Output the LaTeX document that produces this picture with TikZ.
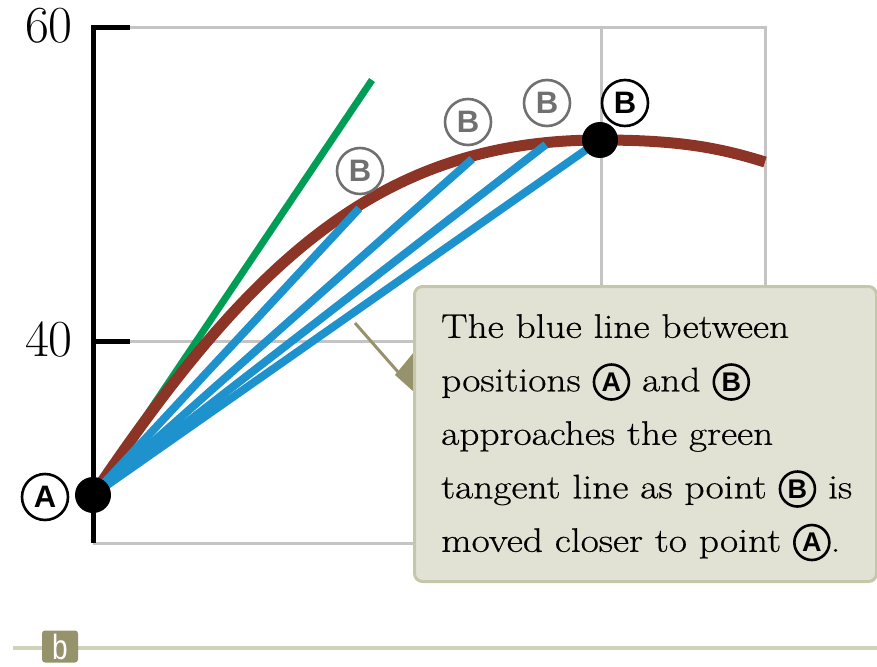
\documentclass[tikz,border=0pt]{standalone}
\usepackage{fontspec}
\newfontfamily\lsans{Liberation Sans}
\newfontfamily\condsans{Liberation Sans}[FakeStretch=0.8]
\newfontfamily\boxfont{Latin Modern Roman}[FakeStretch=1.16,FakeBold=0.6]
\definecolor{gridgray}{RGB}{196,196,196}
\definecolor{curvered}{RGB}{140,52,38}
\definecolor{lineblue}{RGB}{30,146,204}
\definecolor{tangreen}{RGB}{0,158,84}
\definecolor{boxfill}{RGB}{226,226,212}
\definecolor{boxedge}{RGB}{198,198,170}
\definecolor{olivec}{RGB}{150,147,108}
\definecolor{rulecol}{RGB}{206,210,184}
\definecolor{labgray}{RGB}{112,112,112}
\newcommand\circledlet[1]{\tikz[baseline=(cl.base)]\node[circle,draw=black,text=black,line width=2.6pt,inner sep=0pt,minimum size=35pt,font=\fontsize{27}{27}\lsans\bfseries](cl){#1};}
\tikzset{
  gridline/.style={gridgray,line width=3pt},
  axisline/.style={black,line width=5pt},
  blueline/.style={lineblue,line width=8pt},
  glab/.style={circle,draw=labgray,text=labgray,line width=2.6pt,minimum size=46pt,inner sep=0pt,font=\fontsize{31}{31}\lsans\bfseries},
  blab/.style={glab,draw=black,text=black},
}
\begin{document}
\begin{tikzpicture}[x=1pt,y=-1pt]
\useasboundingbox (0,0) rectangle (877,666);
% grid
\coordinate (g1) at (130,28); \coordinate (g2) at (765,28);
\coordinate (g3) at (765,543); \coordinate (g4) at (93,543);
\coordinate (g5) at (93,341); \coordinate (g6) at (765,341);
\coordinate (g7) at (601,28); \coordinate (g8) at (601,543);
\coordinate (ax0) at (93,28); \coordinate (t40) at (130,341);
\draw[gridline] (g1) -- (g2) -- (g3) -- (g4);
\draw[gridline] (g5) -- (g6);
\draw[gridline] (g7) -- (g8);
\draw[axisline,line join=miter] (g4) -- (ax0) -- (g1);
\draw[axisline] (g5) -- (t40);
\node[font=\fontsize{52}{52}\selectfont,anchor=base east,inner sep=0pt] (n60) at (73,43) {60};
\node[font=\fontsize{52}{52}\selectfont,anchor=base east,inner sep=0pt] (n40) at (73,356) {40};
% curve
\coordinate (A) at (93,495);
\coordinate (B) at (600,140);
\coordinate (G) at (372,80);
\coordinate (E) at (765,162);
\draw[tangreen,line width=7pt] (A) -- (G);
\draw[curvered,line width=11pt] (A) .. controls (250,262) and (380,140) .. (B)
   .. controls (680,140) and (720,148) .. (E);
\path (A) .. controls (250,262) and (380,140) .. (B)
   coordinate[pos=0.575] (B1) coordinate[pos=0.79] (B2) coordinate[pos=0.915] (B3);
\draw[blueline] (A) -- ([yshift=-3pt]B1);
\draw[blueline] (A) -- ([yshift=-3pt]B2);
\draw[blueline] (A) -- ([yshift=-2pt]B3);
\draw[blueline] (A) -- (B);
\fill[black] (A) circle (18pt);
\fill[black] (B) circle (18pt);
% labels
\node[glab] (lB1) at (360,171) {B};
\node[glab] (lB2) at (468,122) {B};
\node[glab] (lB3) at (547,103) {B};
\node[blab] (lB) at (625,103) {B};
\node[blab] (lA) at (45,497) {A};
% pointer
\coordinate (p0) at (355,323);
\coordinate (p1) at (398,372);
\draw[olivec,line width=3pt] (p0) -- (p1);
\fill[olivec] (395,375) -- (414,352) -- (414,392) -- cycle;
% box
\node[draw=boxedge,fill=boxfill,line width=3pt,rounded corners=8pt,minimum width=462pt,minimum height=295pt,anchor=north west,inner sep=0pt] (box) at (413,285) {};
\node[anchor=north west,align=left,inner sep=0pt,font=\boxfont\fontsize{34}{53.5}\selectfont] (txt) at (441,314)
{The blue line between\\positions \circledlet{A} and \circledlet{B}\\approaches the green\\tangent line as point \circledlet{B} is\\moved closer to point \circledlet{A}.};
% bottom rule
\coordinate (r0) at (13,648); \coordinate (r1) at (877,648);
\draw[rulecol,line width=4pt] (r0) -- (r1);
\node[fill=olivec,text=white,minimum width=36pt,minimum height=32pt,inner sep=0pt,text height=26pt,text depth=0pt,rounded corners=3pt,font=\fontsize{35}{35}\condsans] (blabel) at (60,646.5) {b};
\end{tikzpicture}
\end{document}
